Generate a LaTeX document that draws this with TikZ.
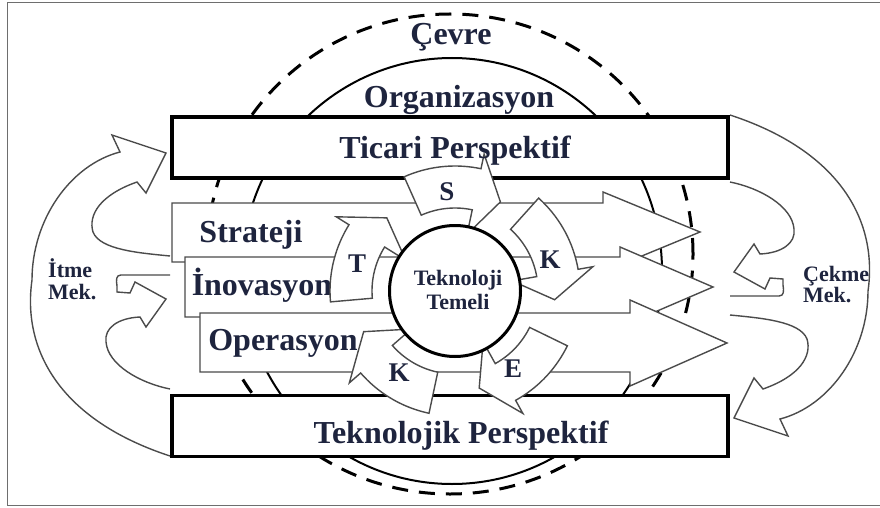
\documentclass[tikz,border=0pt]{standalone}
\usepackage{fontspec}
\setmainfont{Liberation Serif}
\definecolor{ink}{RGB}{30,36,62}
\definecolor{lineg}{RGB}{75,75,75}
\definecolor{frameg}{RGB}{110,110,110}
\newcommand{\cycarrow}[3]{%
  \draw[cyc] plot[domain=#1:#2,samples=18] ({455+125*cos(\x)},{291+125*sin(\x)})
   -- ({455+140*cos(#2)},{291+140*sin(#2)})
   -- ({455+100*cos(#3)},{291+100*sin(#3)})
   -- ({455+58*cos(#2)},{291+58*sin(#2)})
   -- ({455+83*cos(#2)},{291+83*sin(#2)})
   -- plot[domain=#2:#1,samples=18] ({455+83*cos(\x)},{291+83*sin(\x)}) -- cycle;}
\begin{document}
\begin{tikzpicture}[x=1pt,y=-1pt,
  big/.style={font=\bfseries\fontsize{32}{36}\selectfont, text=ink, inner sep=0pt, anchor=base},
  letter/.style={font=\bfseries\fontsize{27}{30}\selectfont, text=ink, inner sep=0pt, anchor=base},
  small/.style={font=\bfseries\fontsize{22}{24}\selectfont, text=ink, inner sep=0pt, anchor=base},
  side/.style={font=\bfseries\fontsize{22}{24}\selectfont, text=ink, inner sep=0pt, anchor=base west},
  box/.style={draw=black, line width=3.5pt, fill=white, inner sep=0pt, minimum width=556pt, minimum height=61pt},
  harrow/.style={draw=lineg, line width=1.4pt, fill=white, line join=miter},
  cyc/.style={draw=lineg, line width=1.4pt, fill=white, line join=miter},
  curv/.style={draw=lineg, line width=1.4pt, line join=miter},
  envline/.style={draw=black, line width=3pt, dash pattern=on 16pt off 11pt},
  orgline/.style={draw=black, line width=2pt},
  core/.style={circle, draw=black, line width=3pt, fill=white, minimum size=131pt, inner sep=0pt}]
\useasboundingbox (0,0) rectangle (880,508);
\fill[white] (0,0) rectangle (880,508);
\draw[frameg, line width=1pt] (880,3) -- (7,3) -- (7,505) -- (880,505);

% environment and organisation
\draw[envline] (450,254) ellipse [x radius=243pt, y radius=240pt];
\draw[orgline] (452,271) ellipse [x radius=210pt, y radius=213pt];

% push (left) and pull (right) mechanisms
\begin{scope}
\draw[curv] (170,456) .. controls (60,420) and (22,350) .. (32,280) .. controls (32,220) and (70,165) .. (120,152) -- (112,135) -- (166,153) -- (146,193) -- (137,182) .. controls (100,195) and (88,215) .. (93,232) .. controls (100,250) and (140,253) .. (170,256);
\draw[curv] (170,275) -- (121,275) .. controls (116,275) and (116,280) .. (117,286) -- (117,292) -- (130,293) -- (135,282) -- (166,299) -- (146,327) -- (140,317) .. controls (118,318) and (104,328) .. (106,342) .. controls (108,365) and (140,383) .. (170,389);
\end{scope}
\begin{scope}[rotate around={180:(450,285.5)}]
\draw[curv] (170,456) .. controls (60,420) and (22,350) .. (32,280) .. controls (32,220) and (70,165) .. (120,152) -- (112,135) -- (166,153) -- (146,193) -- (137,182) .. controls (100,195) and (88,215) .. (93,232) .. controls (100,250) and (140,253) .. (170,256);
\draw[curv] (170,275) -- (121,275) .. controls (116,275) and (116,280) .. (117,286) -- (117,292) -- (130,293) -- (135,282) -- (166,299) -- (146,327) -- (140,317) .. controls (118,318) and (104,328) .. (106,342) .. controls (108,365) and (140,383) .. (170,389);
\end{scope}

% perspective boxes
\node[box] (ticari) at (450,147.5) {};
\node[box] (teknolojik) at (450,426) {};

% layered arrows
\draw[harrow] (172,203) -- (603,203) -- (603,192) -- (700,232) -- (603,272) -- (603,262) -- (172,262) -- cycle;
\draw[harrow] (185,257) -- (620,257) -- (620,247) -- (713,287) -- (620,327) -- (620,317) -- (185,317) -- cycle;
\draw[harrow] (200,313) -- (630,313) -- (630,300) -- (727,343) -- (630,386) -- (630,372) -- (200,372) -- cycle;
\node[big] (strateji) at (251,242) {Strateji};
\node[big] (inovasyon) at (262,295) {İnovasyon};
\node[big] (operasyon) at (283,350) {Operasyon};

% cycle arrows
\cycarrow{246}{282}{297}
\cycarrow{312}{350}{365}
\cycarrow{26}{61}{76}
\cycarrow{102}{139}{156}
\cycarrow{175}{212}{227}

\node[core] (temel) at (455,291) {};
\node[small] (tek1) at (458,285) {Teknoloji};
\node[small] (tek2) at (458,309) {Temeli};

\node[letter] (s) at (447,200) {S};
\node[letter] (k1) at (550,268) {K};
\node[letter] (e) at (513,377) {E};
\node[letter] (k2) at (399,381) {K};
\node[letter] (t) at (357,272) {T};

% texts
\node[big] (cevre) at (451,45) {Çevre};
\node[big] (org) at (459,108) {Organizasyon};
\node[big] (ticaritxt) at (455,158) {Ticari Perspektif};
\node[big] (teknotxt) at (461,443) {Teknolojik Perspektif};
\node[side] (itme) at (48,277) {İtme};
\node[side] (mek1) at (48,299) {Mek.};
\node[side] (cekme) at (803,281) {Çekme};
\node[side] (mek2) at (803,302) {Mek.};
\end{tikzpicture}
\end{document}
